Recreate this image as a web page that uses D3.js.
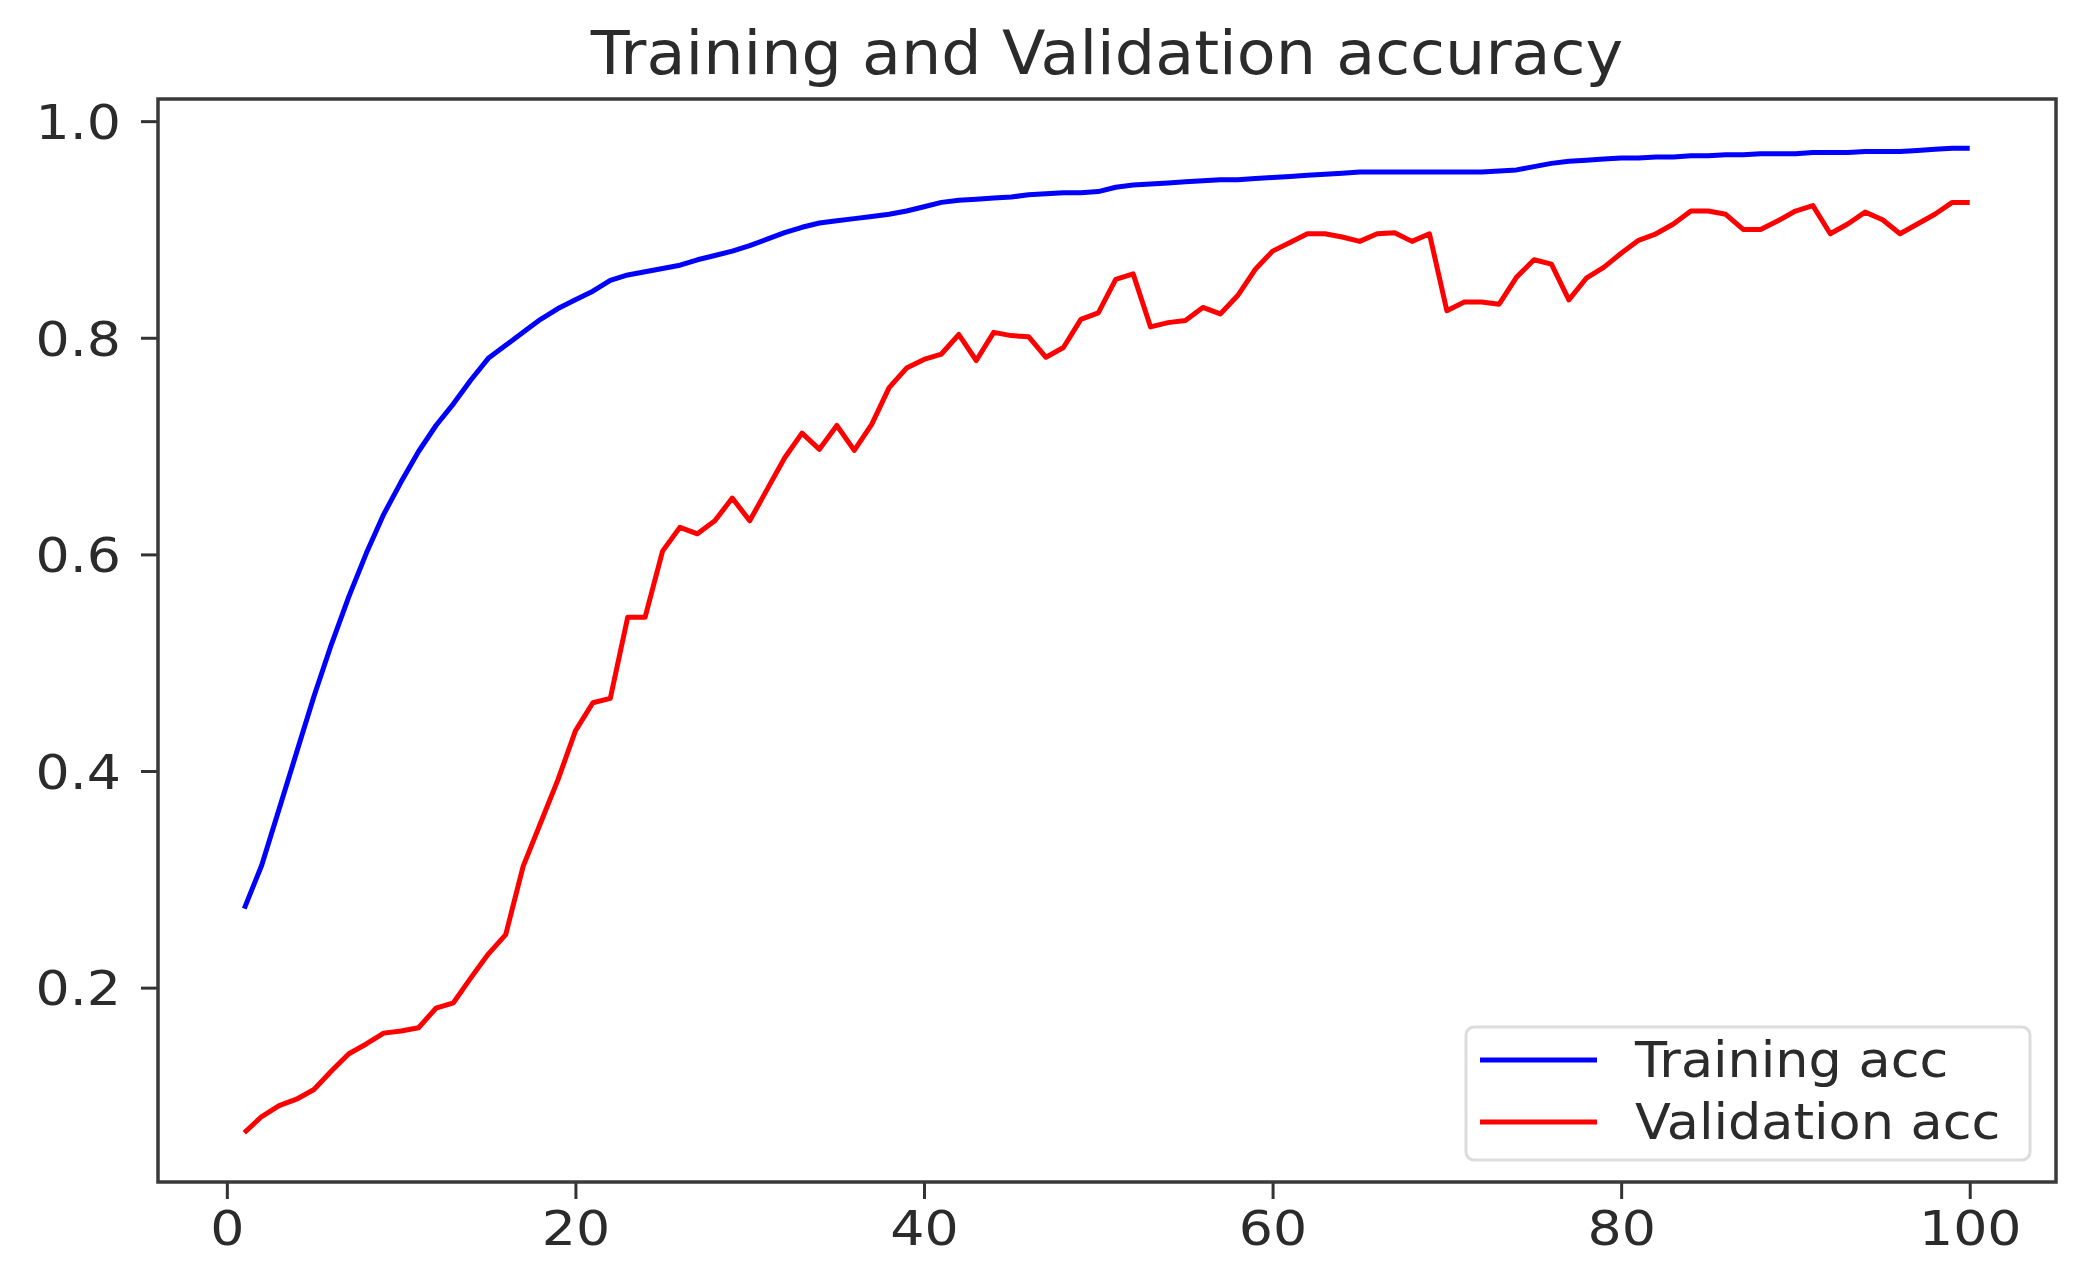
<!DOCTYPE html>
<html>
<head>
<meta charset="utf-8">
<script src="https://cdn.jsdelivr.net/npm/d3@7"></script>
<style>
  body { margin: 0; background: #fff; }
  svg text { font-family: "DejaVu Sans", sans-serif; fill: #2b2b2b; }
</style>
</head>
<body>
<svg id="chart" width="2096" height="1284"></svg>
<script>
// epochs on the x axis
var epochs = d3.range(1, 101);

var trainAcc = [
  0.273, 0.313, 0.365, 0.417, 0.469, 0.517, 0.561, 0.601, 0.637, 0.667,
  0.695, 0.719, 0.739, 0.761, 0.781, 0.793, 0.805, 0.817, 0.827, 0.835,
  0.843, 0.853, 0.858, 0.861, 0.864, 0.867, 0.872, 0.876, 0.880, 0.885,
  0.891, 0.897, 0.902, 0.906, 0.908, 0.910, 0.912, 0.914, 0.917, 0.921,
  0.925, 0.927, 0.928, 0.929, 0.930, 0.932, 0.933, 0.934, 0.934, 0.935,
  0.939, 0.941, 0.942, 0.943, 0.944, 0.945, 0.946, 0.946, 0.947, 0.948,
  0.949, 0.950, 0.951, 0.952, 0.953, 0.953, 0.953, 0.953, 0.953, 0.953,
  0.953, 0.953, 0.954, 0.955, 0.958, 0.961, 0.963, 0.964, 0.965, 0.966,
  0.966, 0.967, 0.967, 0.968, 0.968, 0.969, 0.969, 0.970, 0.970, 0.970,
  0.971, 0.971, 0.971, 0.972, 0.972, 0.972, 0.973, 0.974, 0.975, 0.975
];

var valAcc = [
  0.066, 0.081, 0.091, 0.097, 0.106, 0.123, 0.139, 0.148, 0.158, 0.160,
  0.163, 0.181, 0.186, 0.209, 0.231, 0.249, 0.312, 0.352, 0.392, 0.437,
  0.463, 0.467, 0.542, 0.542, 0.603, 0.625, 0.619, 0.631, 0.652, 0.631,
  0.660, 0.689, 0.712, 0.697, 0.719, 0.696, 0.720, 0.754, 0.772, 0.780,
  0.785, 0.803, 0.779, 0.805, 0.802, 0.801, 0.782, 0.791, 0.817, 0.823,
  0.854, 0.859, 0.810, 0.814, 0.816, 0.828, 0.822, 0.839, 0.863, 0.880,
  0.888, 0.896, 0.896, 0.893, 0.889, 0.896, 0.897, 0.889, 0.896, 0.825,
  0.833, 0.833, 0.831, 0.856, 0.872, 0.868, 0.835, 0.855, 0.865, 0.878,
  0.890, 0.896, 0.905, 0.917, 0.917, 0.914, 0.900, 0.900, 0.908, 0.917,
  0.922, 0.896, 0.905, 0.916, 0.909, 0.896, 0.905, 0.914, 0.925, 0.925
];

var xTicks = [0, 20, 40, 60, 80, 100];
var yTicks = [0.2, 0.4, 0.6, 0.8, 1.0];
var seriesNames = ["Training acc", "Validation acc"];
var seriesColors = ["#0000ff", "#ff0000"];

var svg = d3.select("#chart");
var plotLeft = 158, plotRight = 2056, plotTop = 99, plotBottom = 1182;

// matplotlib style 5% margins round the data
function padded(ext) {
  var m = (ext[1] - ext[0]) * 0.05;
  return [ext[0] - m, ext[1] + m];
}

// the source image is a bit wider than tall, stretch text to suit
function widen(sel, k) {
  sel.each(function() {
    var w = this.getComputedTextLength();
    d3.select(this).attr("textLength", w * k).attr("lengthAdjust", "spacingAndGlyphs");
  });
}

var x = d3.scaleLinear()
    .domain(padded(d3.extent(epochs)))
    .range([plotLeft, plotRight]);

var y = d3.scaleLinear()
    .domain(padded(d3.extent(trainAcc.concat(valAcc))))
    .range([plotBottom, plotTop]);

svg.append("text")
    .attr("x", (plotLeft + plotRight) / 2)
    .attr("y", 74)
    .attr("text-anchor", "middle")
    .style("font-size", "60px")
    .text("Training and Validation accuracy")
    .call(widen, 1.06);

var xAxis = svg.append("g")
    .attr("transform", "translate(0," + plotBottom + ")")
    .call(d3.axisBottom(x).tickValues(xTicks).tickSize(17).tickPadding(12));

var yAxis = svg.append("g")
    .attr("transform", "translate(" + plotLeft + ",0)")
    .call(d3.axisLeft(y).tickValues(yTicks).tickFormat(d3.format(".1f")).tickSize(17).tickPadding(20));

[xAxis, yAxis].forEach(function(a) {
  a.select(".domain").remove();
  a.selectAll(".tick line").attr("stroke", "#333").attr("stroke-width", 3);
  a.selectAll(".tick text").style("font-size", "48px").attr("fill", "#2b2b2b").call(widen, 1.12);
});
yAxis.selectAll(".tick text").attr("dy", "0.36em");

var line = d3.line()
    .x(function(d, i) { return x(epochs[i]); })
    .y(function(d) { return y(d); });

[trainAcc, valAcc].forEach(function(s, k) {
  svg.append("path")
      .datum(s)
      .attr("fill", "none")
      .attr("stroke", seriesColors[k])
      .attr("stroke-width", 5)
      .attr("stroke-linejoin", "round")
      .attr("d", line);
});

// axes frame
svg.append("rect")
    .attr("x", plotLeft)
    .attr("y", plotTop)
    .attr("width", plotRight - plotLeft)
    .attr("height", plotBottom - plotTop)
    .attr("fill", "none")
    .attr("stroke", "#3a3a3a")
    .attr("stroke-width", 3.5);

// legend, lower right
var legend = svg.append("g").attr("class", "legend");

legend.append("rect")
    .attr("x", 1466)
    .attr("y", 1027)
    .attr("width", 564)
    .attr("height", 133)
    .attr("rx", 8)
    .attr("fill", "#fff")
    .attr("fill-opacity", 0.8)
    .attr("stroke", "#dcdcdc")
    .attr("stroke-width", 3);

var rows = legend.selectAll(".row")
    .data(seriesNames)
    .enter().append("g")
    .attr("class", "row")
    .attr("transform", function(d, i) { return "translate(0," + (1060 + i * 62) + ")"; });

rows.append("line")
    .attr("x1", 1480)
    .attr("x2", 1597)
    .attr("stroke", function(d, i) { return seriesColors[i]; })
    .attr("stroke-width", 5);

rows.append("text")
    .attr("x", 1635)
    .attr("y", 17)
    .style("font-size", "49px")
    .text(function(d) { return d; })
    .call(widen, 1.07);
</script>
</body>
</html>
